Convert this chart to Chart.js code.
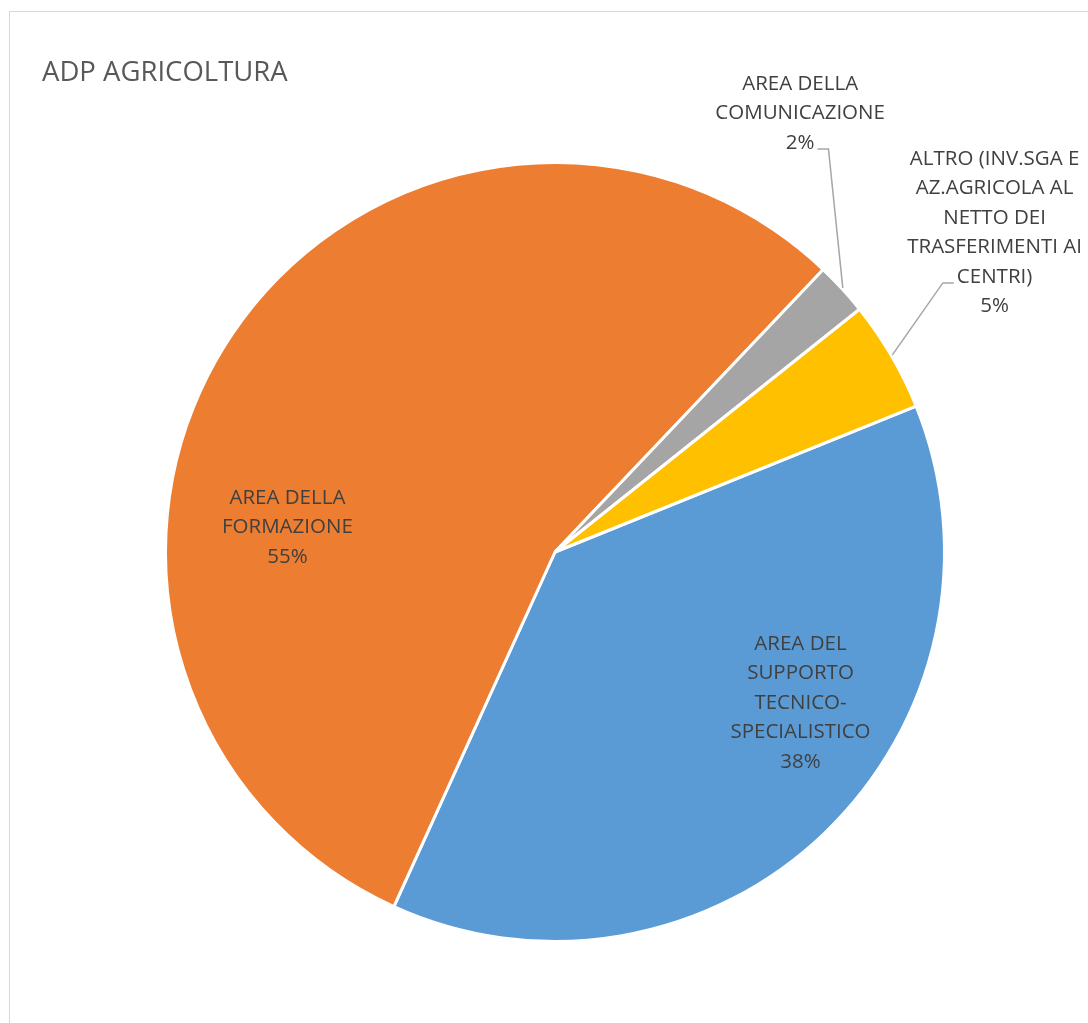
<!DOCTYPE html>
<html lang="it">
<head>
<meta charset="utf-8">
<title>ADP Agricoltura</title>
<script src="https://cdn.jsdelivr.net/npm/chart.js@4.4.1/dist/chart.umd.min.js"></script>
<style>
  html, body { margin: 0; padding: 0; background: #fff; }
  #wrap { position: relative; width: 1088px; height: 1023px; }
</style>
</head>
<body>
<div id="wrap"><canvas id="pie-chart" width="1088" height="1023"></canvas></div>
<script>
// ADP Agricoltura - pie chart
const chartTitle = 'ADP AGRICOLTURA';

const categories = [
  'AREA DEL SUPPORTO TECNICO-SPECIALISTICO',
  'AREA DELLA FORMAZIONE',
  'AREA DELLA COMUNICAZIONE',
  'ALTRO (INV.SGA E AZ.AGRICOLA AL NETTO DEI TRASFERIMENTI AI CENTRI)'
];
const shares = [37.9, 55.3, 2.2, 4.6];
const sliceColors = ['#5B9BD5', '#ED7D31', '#A5A5A5', '#FFC000'];

// wrapped category text as shown in the labels
const labelLines = [
  ['AREA DEL', 'SUPPORTO', 'TECNICO-', 'SPECIALISTICO'],
  ['AREA DELLA', 'FORMAZIONE'],
  ['AREA DELLA', 'COMUNICAZIONE'],
  ['ALTRO (INV.SGA E', 'AZ.AGRICOLA AL', 'NETTO DEI', 'TRASFERIMENTI AI', 'CENTRI)']
];

// label placement: angle (deg, clockwise from top) and distance as fraction of radius
const labelPlacement = [
  { angle: 121.6, dist: 0.74 },
  { angle: 275.3, dist: 0.69 },
  { angle: 29.2, dist: 1.29, leader: { line: 2, side: 'right' } },
  { angle: 54.0, dist: 1.395, leader: { line: 4, side: 'left' } }
];

const LABEL_FONT = '20.5px "Open Sans"';
const LINE_H = 29.5;

const frameAndLabels = {
  id: 'frameAndLabels',
  beforeDraw(chart) {
    const ctx = chart.ctx;
    ctx.save();
    ctx.fillStyle = '#fff';
    ctx.fillRect(0, 0, chart.width, chart.height);
    ctx.strokeStyle = '#D9D9D9';
    ctx.lineWidth = 1;
    ctx.strokeRect(9.5, 11.5, 1300, 1300);
    // title
    ctx.fillStyle = '#595959';
    ctx.font = '27.5px "Open Sans"';
    ctx.textBaseline = 'middle';
    ctx.textAlign = 'left';
    ctx.fillText(chartTitle, 42, 73);
    ctx.restore();
  },
  afterDraw(chart) {
    const ctx = chart.ctx;
    const arcs = chart.getDatasetMeta(0).data;
    const total = shares.reduce((s, v) => s + v, 0);
    ctx.save();
    ctx.font = LABEL_FONT;
    ctx.textAlign = 'center';
    ctx.textBaseline = 'middle';

    arcs.forEach((arc, i) => {
      const { x: cx, y: cy, outerRadius: R, startAngle, endAngle } = arc;
      const place = labelPlacement[i];
      const a = place.angle * Math.PI / 180 - Math.PI / 2;
      const lx = cx + Math.cos(a) * R * place.dist;
      const ly = cy + Math.sin(a) * R * place.dist;
      const lines = labelLines[i].concat([Math.round(shares[i] / total * 100) + '%']);
      const top = ly - (lines.length - 1) / 2 * LINE_H;

      ctx.fillStyle = '#404040';
      lines.forEach((t, k) => ctx.fillText(t, lx, top + k * LINE_H));

      if (place.leader) {
        const k = place.leader.line;
        const w = ctx.measureText(lines[k]).width;
        const yLine = top + k * LINE_H + 6;
        const dir = place.leader.side === 'right' ? 1 : -1;
        const endX = lx + dir * (w / 2 + 3);
        const elbowX = endX + dir * 11;
        const mid = (startAngle + endAngle) / 2;
        const sx = cx + Math.cos(mid) * (R + 1);
        const sy = cy + Math.sin(mid) * (R + 1);
        ctx.strokeStyle = '#A6A6A6';
        ctx.lineWidth = 1.5;
        ctx.beginPath();
        ctx.moveTo(sx, sy);
        ctx.lineTo(elbowX, yLine);
        ctx.lineTo(endX, yLine);
        ctx.stroke();
      }
    });
    ctx.restore();
  }
};

new Chart(document.getElementById('pie-chart'), {
  type: 'pie',
  data: {
    labels: categories,
    datasets: [{
      data: shares,
      backgroundColor: sliceColors,
      borderColor: '#FFFFFF',
      borderWidth: 3
    }]
  },
  options: {
    responsive: false,
    animation: false,
    rotation: 68,
    layout: { padding: { left: 164, right: 142, top: 161, bottom: 80 } },
    plugins: {
      legend: { display: false },
      title: { display: false },
      tooltip: { enabled: false }
    }
  },
  plugins: [frameAndLabels]
});
</script>
</body>
</html>
